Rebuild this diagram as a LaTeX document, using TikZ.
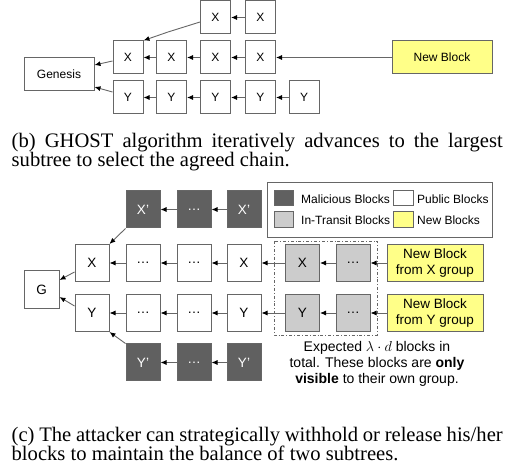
\documentclass[tikz,border=0pt]{standalone}
\usepackage{fontspec}
\setmainfont{Liberation Serif}
\setsansfont{Liberation Sans}
\usetikzlibrary{arrows.meta}
\definecolor{edgegray}{HTML}{666666}
\definecolor{darkblk}{HTML}{606060}
\definecolor{lightblk}{HTML}{CCCCCC}
\definecolor{newyel}{HTML}{FFFF88}
\tikzset{
  blk/.style={draw=edgegray, line width=1pt, inner sep=0pt, minimum width=30pt, minimum height=33pt, font=\sffamily\fontsize{12}{14}\selectfont},
  bblk/.style={blk, minimum width=34pt, minimum height=37pt, font=\sffamily\fontsize{13.5}{15}\selectfont},
  mal/.style={bblk, fill=darkblk, text=white},
  tra/.style={bblk, fill=lightblk},
  yel/.style={fill=newyel},
  arr/.style={draw=edgegray, line width=0.9pt, -{Latex[length=6pt,width=5pt,color=black]}},
  captxt/.style={inner sep=0pt, anchor=base west, font=\fontsize{20.6}{19}\selectfont},
  leg/.style={inner sep=0pt, anchor=west, font=\sffamily\fontsize{12}{14}\selectfont},
  sw/.style={draw=edgegray, line width=1pt}
}
\begin{document}
\begin{tikzpicture}[x=1pt,y=-1pt]
\useasboundingbox (0,0) rectangle (512,465);
% ---------- (b) ----------
\node[blk, minimum width=70pt] (gen) at (59,74.5) {Genesis};
\node[blk] (x1) at (128,57.5) {X};
\node[blk] (x2) at (171.5,57.5) {X};
\node[blk] (x3) at (215.5,57.5) {X};
\node[blk] (x4) at (260.5,57.5) {X};
\node[blk] (tx1) at (215.5,17.5) {X};
\node[blk] (tx2) at (260.5,17.5) {X};
\node[blk] (y1) at (128,97.5) {Y};
\node[blk] (y2) at (171.5,97.5) {Y};
\node[blk] (y3) at (215.5,97.5) {Y};
\node[blk] (y4) at (260.5,97.5) {Y};
\node[blk] (y5) at (304,97.5) {Y};
\node[blk, yel, minimum width=100pt] (nb) at (442,57.5) {New Block};
\draw[arr] ([yshift=-3.5pt]x1.west) -- ([yshift=9.5pt]gen.east);
\draw[arr] ([yshift=5.5pt]y1.west) -- ([yshift=-12.5pt]gen.east);
\draw[arr] (x2) -- (x1);
\draw[arr] (x3) -- (x2);
\draw[arr] (x4) -- (x3);
\draw[arr] (nb) -- (x4);
\draw[arr] (tx2) -- (tx1);
\coordinate (bend) at (168,32);
\draw[arr] ([yshift=-4.5pt]tx1.west) -- (bend) -- (x1.north east);
\draw[arr] (y2) -- (y1);
\draw[arr] (y3) -- (y2);
\draw[arr] (y4) -- (y3);
\draw[arr] (y5) -- (y4);
\node[captxt] (capb1) at (11.5,147.7) {\makebox[491pt][s]{(b) GHOST algorithm iteratively advances to the largest}};
\node[captxt] (capb2) at (11.5,166.7) {subtree to select the agreed chain.};
% ---------- (c) ----------
\node[bblk, minimum width=35pt, minimum height=38pt] (g) at (41.5,290) {G};
\node[bblk] (cx1) at (92,263) {X};
\node[bblk] (cx2) at (143,263) {\dots};
\node[bblk] (cx3) at (194,263) {\dots};
\node[bblk] (cx4) at (244,263) {X};
\node[tra] (cx5) at (302.5,263) {X};
\node[tra] (cx6) at (353,263) {\dots};
\node[bblk, yel, minimum width=96pt, align=center, font=\sffamily\fontsize{13.5}{16}\selectfont] (nbx) at (435,263) {New Block\\from X group};
\node[bblk] (cy1) at (92,313) {Y};
\node[bblk] (cy2) at (143,313) {\dots};
\node[bblk] (cy3) at (194,313) {\dots};
\node[bblk] (cy4) at (244,313) {Y};
\node[tra] (cy5) at (302.5,313) {Y};
\node[tra] (cy6) at (353,313) {\dots};
\node[bblk, yel, minimum width=96pt, align=center, font=\sffamily\fontsize{13.5}{16}\selectfont] (nby) at (435,313) {New Block\\from Y group};
\node[mal] (mx1) at (143,209.5) {X’};
\node[mal] (mx2) at (194,209.5) {\dots};
\node[mal] (mx3) at (244,209.5) {X’};
\node[mal] (my1) at (143,362.5) {Y’};
\node[mal] (my2) at (194,362.5) {\dots};
\node[mal] (my3) at (244,362.5) {Y’};
\draw[arr] ([yshift=-9pt]cx1.west) -- ([yshift=10pt]g.east);
\draw[arr] ([yshift=7pt]cy1.west) -- ([yshift=-7pt]g.east);
\draw[arr] (cx2) -- (cx1);
\draw[arr] (cx3) -- (cx2);
\draw[arr] (cx4) -- (cx3);
\draw[arr] (cx5) -- (cx4);
\draw[arr] (cx6) -- (cx5);
\draw[arr] (nbx) -- (cx6);
\draw[arr] (cy2) -- (cy1);
\draw[arr] (cy3) -- (cy2);
\draw[arr] (cy4) -- (cy3);
\draw[arr] (cy5) -- (cy4);
\draw[arr] (cy6) -- (cy5);
\draw[arr] (nby) -- (cy6);
\draw[arr] (mx2) -- (mx1);
\draw[arr] (mx3) -- (mx2);
\draw[arr] (my2) -- (my1);
\draw[arr] (my3) -- (my2);
\draw[arr] (mx1.south west) -- (cx1.north east);
\draw[arr] (my1.north west) -- (cy1.south east);
% dashed group
\draw[edgegray, line width=0.8pt, dash dot] (274,241) rectangle (377,335);
% legend
\draw[sw] (267,183) rectangle (492,238);
\draw[sw, fill=darkblk] (274,191) rectangle (293,206);
\draw[sw, fill=lightblk] (274,212) rectangle (293,228);
\draw[sw, fill=white] (393,191) rectangle (413,206);
\draw[sw, fill=newyel] (393,212) rectangle (413,228);
\node[leg] (l1) at (301,199) {Malicious Blocks};
\node[leg] (l2) at (301,220) {In-Transit Blocks};
\node[leg] (l3) at (417,199) {Public Blocks};
\node[leg] (l4) at (417,220) {New Blocks};
\node[inner sep=0pt, anchor=north, align=center, font=\sffamily\fontsize{14}{16}\selectfont] (note) at (377,341) {Expected $\lambda\cdot d$ blocks in\\total. These blocks are \textbf{only}\\\textbf{visible} to their own group.};
\node[captxt] (capc1) at (11.5,441.7) {\makebox[491pt][s]{(c) The attacker can strategically withhold or release his/her}};
\node[captxt] (capc2) at (11.5,460.7) {blocks to maintain the balance of two subtrees.};
\end{tikzpicture}
\end{document}
